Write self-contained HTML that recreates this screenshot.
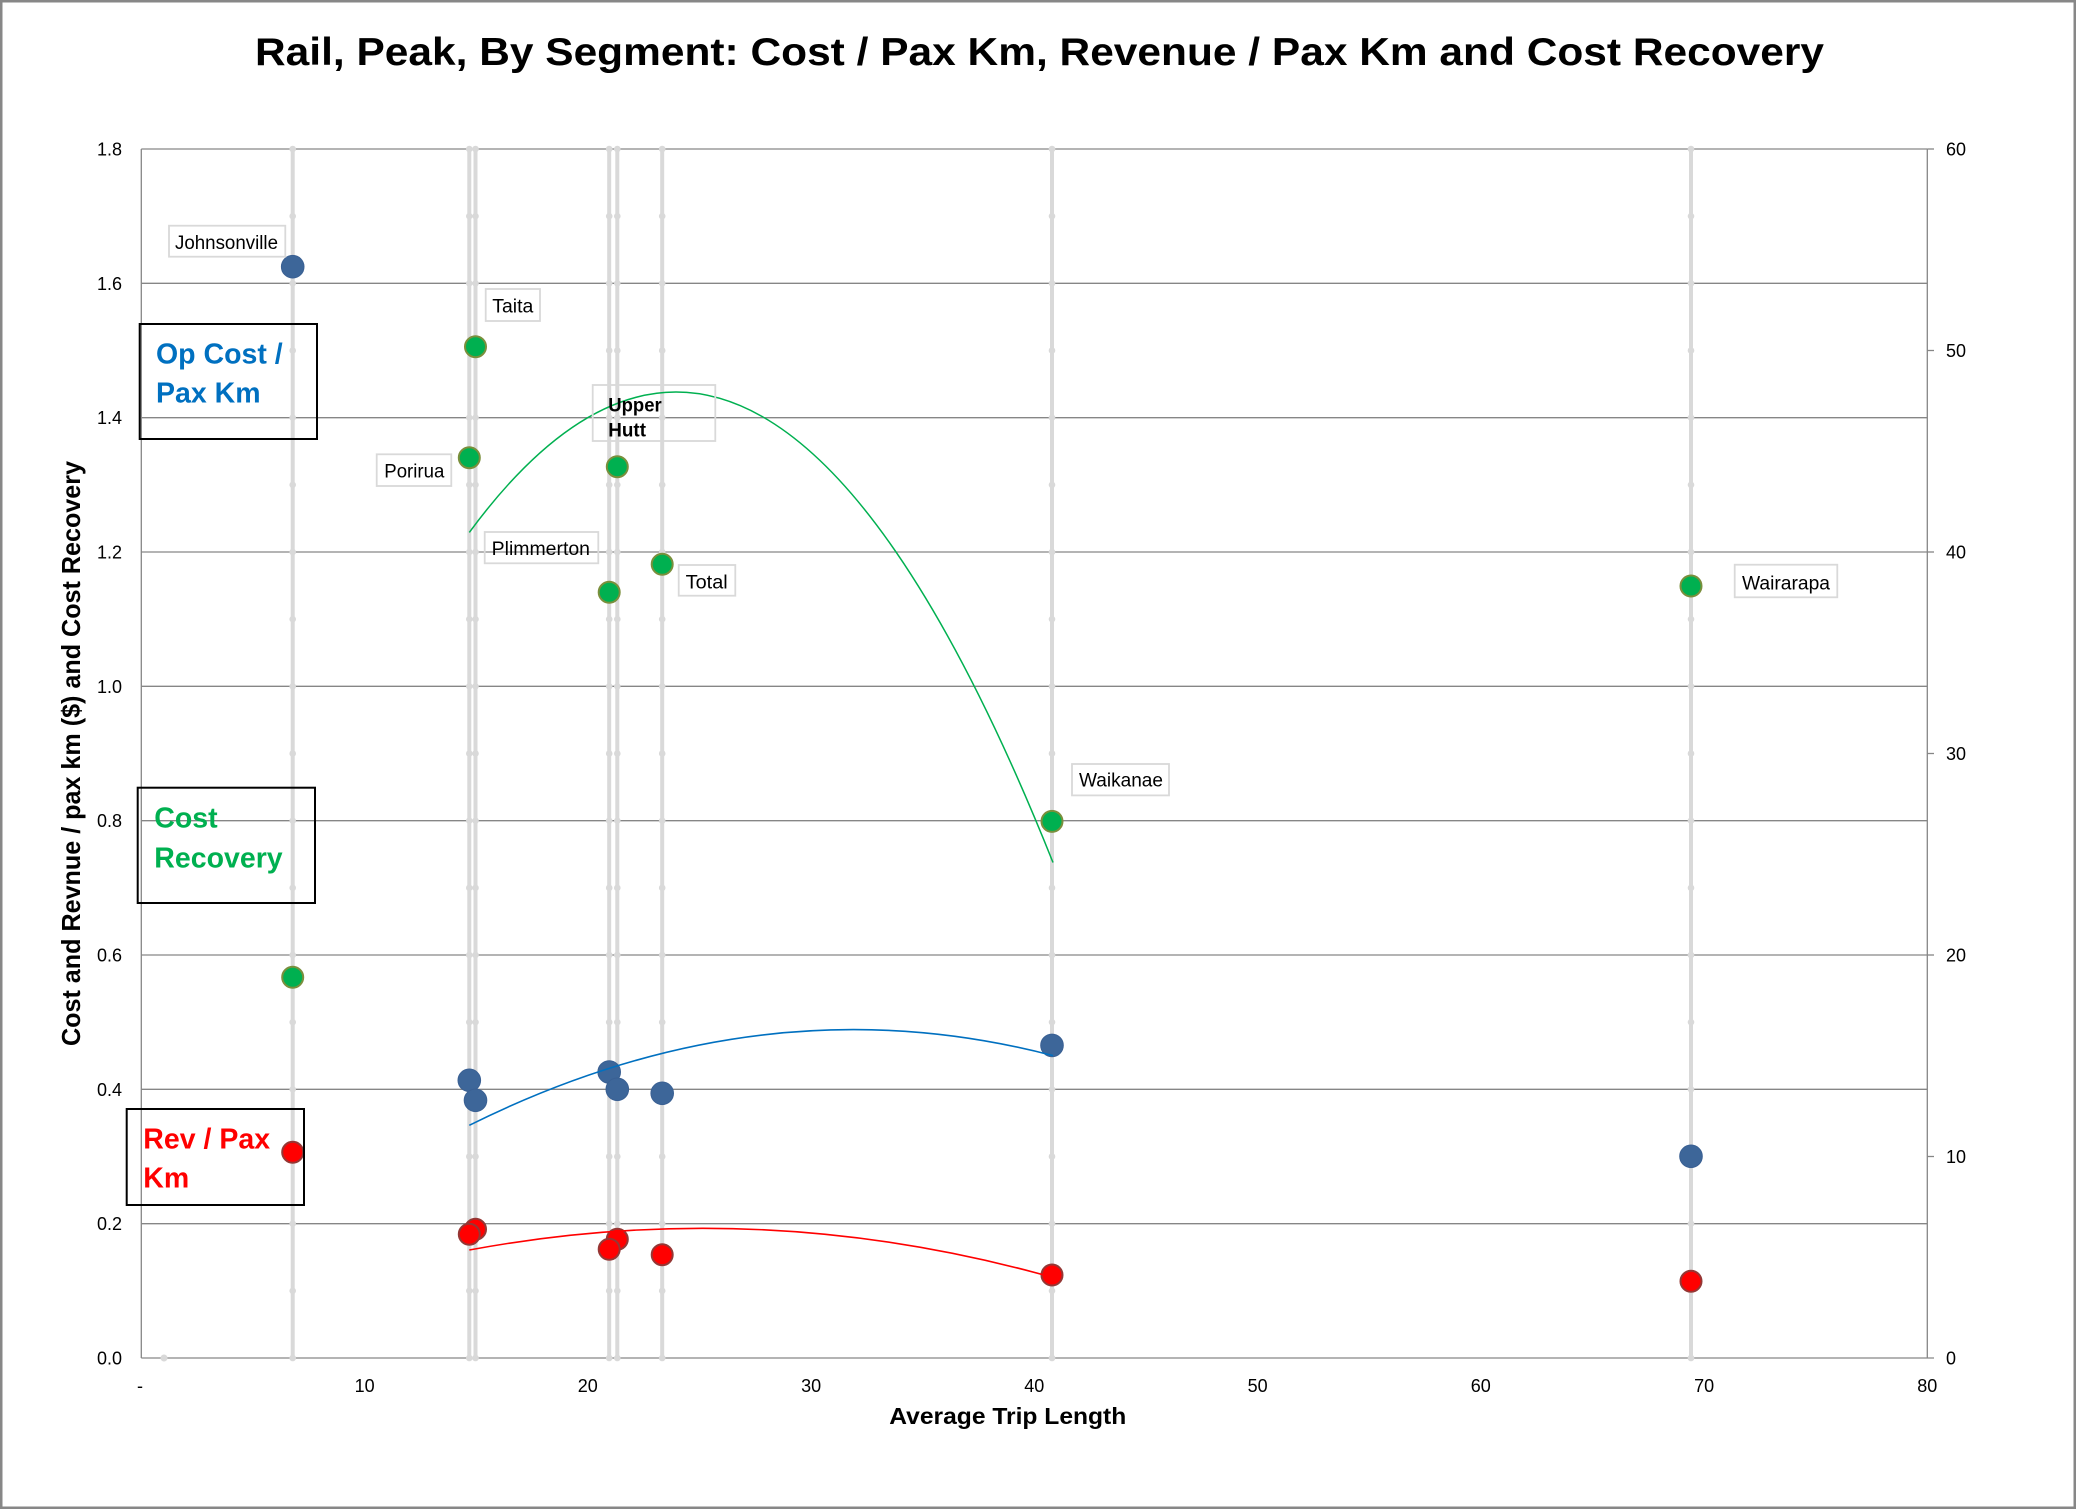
<!DOCTYPE html>
<html>
<head>
<meta charset="utf-8">
<style>
html,body{margin:0;padding:0;background:#fff;}
svg{display:block;}
</style>
</head>
<body>
<svg xmlns="http://www.w3.org/2000/svg" width="2076" height="1509" viewBox="0 0 2076 1509" font-family="'Liberation Sans', Arial, sans-serif">
<defs>
<g id="dcol" fill="#d9d9d9">
<circle cx="0" cy="1358" r="3.3"/><circle cx="0" cy="1290.83" r="3.3"/><circle cx="0" cy="1223.67" r="3.3"/><circle cx="0" cy="1156.5" r="3.3"/><circle cx="0" cy="1089.33" r="3.3"/><circle cx="0" cy="1022.17" r="3.3"/><circle cx="0" cy="955" r="3.3"/><circle cx="0" cy="887.83" r="3.3"/><circle cx="0" cy="820.67" r="3.3"/><circle cx="0" cy="753.5" r="3.3"/><circle cx="0" cy="686.33" r="3.3"/><circle cx="0" cy="619.17" r="3.3"/><circle cx="0" cy="552" r="3.3"/><circle cx="0" cy="484.83" r="3.3"/><circle cx="0" cy="417.67" r="3.3"/><circle cx="0" cy="350.5" r="3.3"/><circle cx="0" cy="283.33" r="3.3"/><circle cx="0" cy="216.17" r="3.3"/><circle cx="0" cy="149" r="3.3"/>
</g>
</defs>
<rect x="0" y="0" width="2076" height="1509" fill="#ffffff"/>
<rect x="1.25" y="1.25" width="2073.5" height="1506.5" fill="none" stroke="#878787" stroke-width="2.5"/>

<!-- Title -->
<text x="255" y="65" font-size="39" font-weight="bold" fill="#000" textLength="1569" lengthAdjust="spacingAndGlyphs">Rail, Peak, By Segment: Cost / Pax Km, Revenue / Pax Km and Cost Recovery</text>

<!-- Gridlines -->
<g stroke="#868686" stroke-width="1.3">
<line x1="141.3" y1="1223.67" x2="1927.3" y2="1223.67"/>
<line x1="141.3" y1="1089.33" x2="1927.3" y2="1089.33"/>
<line x1="141.3" y1="955" x2="1927.3" y2="955"/>
<line x1="141.3" y1="820.67" x2="1927.3" y2="820.67"/>
<line x1="141.3" y1="686.33" x2="1927.3" y2="686.33"/>
<line x1="141.3" y1="552" x2="1927.3" y2="552"/>
<line x1="141.3" y1="417.67" x2="1927.3" y2="417.67"/>
<line x1="141.3" y1="283.33" x2="1927.3" y2="283.33"/>
<line x1="141.3" y1="149" x2="1927.3" y2="149"/>
<line x1="141.3" y1="149" x2="141.3" y2="1358"/>
<line x1="1927.3" y1="149" x2="1927.3" y2="1358"/>
<line x1="141.3" y1="1358" x2="1934" y2="1358"/>
<line x1="1927.3" y1="1156.5" x2="1934" y2="1156.5"/>
<line x1="1927.3" y1="955" x2="1934" y2="955"/>
<line x1="1927.3" y1="753.5" x2="1934" y2="753.5"/>
<line x1="1927.3" y1="552" x2="1934" y2="552"/>
<line x1="1927.3" y1="350.5" x2="1934" y2="350.5"/>
<line x1="1927.3" y1="149" x2="1934" y2="149"/>
</g>

<!-- Vertical drop lines -->
<g stroke="#d9d9d9" stroke-width="4">
<line x1="292.7" y1="149" x2="292.7" y2="1358"/>
<line x1="469.3" y1="149" x2="469.3" y2="1358"/>
<line x1="475.5" y1="149" x2="475.5" y2="1358"/>
<line x1="609.2" y1="149" x2="609.2" y2="1358"/>
<line x1="617.3" y1="149" x2="617.3" y2="1358"/>
<line x1="662.2" y1="149" x2="662.2" y2="1358"/>
<line x1="1052" y1="149" x2="1052" y2="1358"/>
<line x1="1691" y1="149" x2="1691" y2="1358"/>
</g>
<circle cx="164" cy="1358" r="3.5" fill="#d9d9d9"/>
<use href="#dcol" x="292.7"/>
<use href="#dcol" x="469.3"/>
<use href="#dcol" x="475.5"/>
<use href="#dcol" x="609.2"/>
<use href="#dcol" x="617.3"/>
<use href="#dcol" x="662.2"/>
<use href="#dcol" x="1052"/>
<use href="#dcol" x="1691"/>

<!-- Left axis labels -->
<g font-size="18" fill="#000" text-anchor="end">
<text x="122" y="1364.5">0.0</text>
<text x="122" y="1230.2">0.2</text>
<text x="122" y="1095.8">0.4</text>
<text x="122" y="961.5">0.6</text>
<text x="122" y="827.2">0.8</text>
<text x="122" y="692.8">1.0</text>
<text x="122" y="558.5">1.2</text>
<text x="122" y="424.2">1.4</text>
<text x="122" y="289.8">1.6</text>
<text x="122" y="155.5">1.8</text>
</g>
<!-- Right axis labels -->
<g font-size="18" fill="#000" text-anchor="start">
<text x="1946" y="1364.5">0</text>
<text x="1946" y="1163">10</text>
<text x="1946" y="961.5">20</text>
<text x="1946" y="760">30</text>
<text x="1946" y="558.5">40</text>
<text x="1946" y="357">50</text>
<text x="1946" y="155.5">60</text>
</g>
<!-- X axis labels -->
<g font-size="18" fill="#000" text-anchor="middle">
<text x="140" y="1392">-</text>
<text x="364.6" y="1392">10</text>
<text x="587.8" y="1392">20</text>
<text x="811.1" y="1392">30</text>
<text x="1034.3" y="1392">40</text>
<text x="1257.6" y="1392">50</text>
<text x="1480.8" y="1392">60</text>
<text x="1704.1" y="1392">70</text>
<text x="1927.3" y="1392">80</text>
</g>

<!-- Axis titles -->
<text transform="translate(80,753.5) rotate(-90)" text-anchor="middle" font-size="26" font-weight="bold" fill="#000" textLength="585" lengthAdjust="spacingAndGlyphs">Cost and Revnue / pax km ($) and Cost Recovery</text>
<text x="889.3" y="1424" font-size="23" font-weight="bold" fill="#000" textLength="237" lengthAdjust="spacingAndGlyphs">Average Trip Length</text>

<!-- Data points: blue (Op cost) -->
<g fill="#3d6699" stroke="#3a6093" stroke-width="1">
<circle cx="292.7" cy="266.7" r="11.3"/>
<circle cx="469.3" cy="1080.3" r="11.3"/>
<circle cx="475.5" cy="1100.3" r="11.3"/>
<circle cx="609.2" cy="1072" r="11.3"/>
<circle cx="617.3" cy="1089.3" r="11.3"/>
<circle cx="662.2" cy="1093.3" r="11.3"/>
<circle cx="1052" cy="1045.4" r="11.3"/>
<circle cx="1691" cy="1156.3" r="11.3"/>
</g>
<!-- Red (Revenue) -->
<g fill="#ff0000" stroke="#953735" stroke-width="2">
<circle cx="292.7" cy="1152.3" r="10.5"/>
<circle cx="475.5" cy="1229.3" r="10.5"/>
<circle cx="469.3" cy="1234.3" r="10.5"/>
<circle cx="617.3" cy="1239.3" r="10.5"/>
<circle cx="609.2" cy="1249.3" r="10.5"/>
<circle cx="662.2" cy="1254.7" r="10.5"/>
<circle cx="1052" cy="1275" r="10.5"/>
<circle cx="1691" cy="1281.3" r="10.5"/>
</g>
<!-- Green (Cost recovery) -->
<g fill="#00b050" stroke="#7a8f3c" stroke-width="2">
<circle cx="292.7" cy="977.3" r="10.5"/>
<circle cx="469.3" cy="457.7" r="10.5"/>
<circle cx="475.5" cy="346.7" r="10.5"/>
<circle cx="609.2" cy="592.3" r="10.5"/>
<circle cx="617.3" cy="466.7" r="10.5"/>
<circle cx="662.2" cy="564.3" r="10.5"/>
<circle cx="1052" cy="821.4" r="10.5"/>
<circle cx="1691" cy="586" r="10.5"/>
</g>

<!-- Trend lines -->
<path d="M469.3,532.4 Q762.15,135.04 1053,862.5" fill="none" stroke="#00b050" stroke-width="1.5"/>
<path d="M469.3,1125.3 Q762.15,979.73 1053,1055.6" fill="none" stroke="#0070c0" stroke-width="1.6"/>
<path d="M469.3,1250 Q762.15,1195.61 1053,1277.5" fill="none" stroke="#ff0000" stroke-width="1.6"/>

<!-- Data labels -->
<g fill="none" stroke="#d9d9d9" stroke-width="1.8">
<rect x="169" y="225.7" width="116.3" height="31"/>
<rect x="485.7" y="289" width="54.3" height="32"/>
<rect x="592.7" y="385" width="122.6" height="56"/>
<rect x="376.7" y="454.3" width="74.6" height="31.7"/>
<rect x="484.7" y="532" width="113.6" height="31.3"/>
<rect x="678.7" y="565" width="56.6" height="30.7"/>
<rect x="1072" y="764" width="97" height="31.4"/>
<rect x="1734.7" y="564.7" width="102.6" height="32.6"/>
</g>
<g font-size="19" fill="#000">
<text x="175" y="249" textLength="103" lengthAdjust="spacingAndGlyphs">Johnsonville</text>
<text x="492.3" y="312.7" textLength="41" lengthAdjust="spacingAndGlyphs">Taita</text>
<text x="384.3" y="477.3" textLength="60" lengthAdjust="spacingAndGlyphs">Porirua</text>
<text x="491.7" y="555" textLength="98.3" lengthAdjust="spacingAndGlyphs">Plimmerton</text>
<text x="685.7" y="588.3" textLength="42" lengthAdjust="spacingAndGlyphs">Total</text>
<text x="1079" y="786.4" textLength="84" lengthAdjust="spacingAndGlyphs">Waikanae</text>
<text x="1742" y="589.3" textLength="88" lengthAdjust="spacingAndGlyphs">Wairarapa</text>
<text x="608.3" y="411.7" font-weight="bold" textLength="53.4" lengthAdjust="spacingAndGlyphs">Upper</text>
<text x="608.3" y="436.7" font-weight="bold" textLength="37.7" lengthAdjust="spacingAndGlyphs">Hutt</text>
</g>

<!-- Legend-like boxes -->
<g fill="none" stroke="#000" stroke-width="2">
<rect x="139.7" y="324" width="177.3" height="115"/>
<rect x="137.7" y="787.7" width="177.3" height="115.3"/>
<rect x="126.7" y="1109" width="177.3" height="96"/>
</g>
<g font-size="28.5" font-weight="bold">
<text x="156" y="363.3" fill="#0070c0">Op Cost /</text>
<text x="156" y="402.7" fill="#0070c0">Pax Km</text>
<text x="154.3" y="827.3" fill="#00b050">Cost</text>
<text x="154.3" y="867.3" fill="#00b050">Recovery</text>
<text x="143.3" y="1148.3" fill="#ff0000">Rev / Pax</text>
<text x="143.3" y="1187.3" fill="#ff0000">Km</text>
</g>
</svg>
</body>
</html>
